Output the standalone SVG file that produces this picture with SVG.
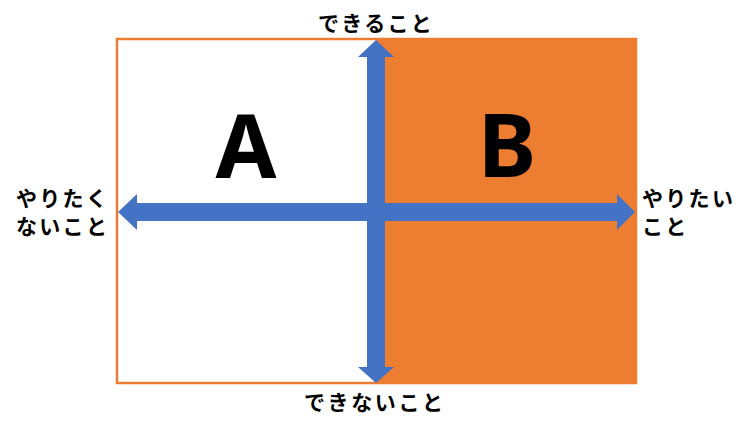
<svg xmlns="http://www.w3.org/2000/svg" width="754" height="430" viewBox="0 0 754 430">
  <style>
    .lbl { font-family: "Noto Sans CJK JP", "Noto Sans", sans-serif; font-weight: bold; font-size: 21px; fill: #000; letter-spacing: 2.3px; }
    .big { font-family: "Noto Sans", "Liberation Sans", sans-serif; font-weight: bold; font-size: 88px; fill: #000; text-anchor: middle; }
    .arrow { fill: #4472C4; }
  </style>
  <rect width="754" height="430" fill="#fff"/>
  <g id="quadrantA">
    <rect x="117" y="39" width="519" height="344" fill="#fff" stroke="#ED7D31" stroke-width="2.5"/>
    <text class="big" x="246" y="178">A</text>
  </g>
  <g id="quadrantB">
    <rect x="376" y="38" width="260" height="346" fill="#ED7D31"/>
    <text class="big" x="507" y="177">B</text>
  </g>
  <g id="connectors">
    <polygon class="arrow" points="118,212 137,194 137,203 617,203 617,194 635,212 617,230 617,221 137,221 137,230"/>
    <polygon class="arrow" points="376,40 394,57 385,57 385,367 394,367 376,383 358,367 367,367 367,57 358,57"/>
  </g>
  <g id="label-top">
    <text class="lbl" x="318" y="31">できること</text>
  </g>
  <g id="label-bottom">
    <text class="lbl" x="304" y="410" style="letter-spacing:2.6px">できないこと</text>
  </g>
  <g id="label-left">
    <text class="lbl" x="16" y="206">やりたく</text>
    <text class="lbl" x="16" y="234">ないこと</text>
  </g>
  <g id="label-right">
    <text class="lbl" x="642" y="206">やりたい</text>
    <text class="lbl" x="642" y="234">こと</text>
  </g>
</svg>
